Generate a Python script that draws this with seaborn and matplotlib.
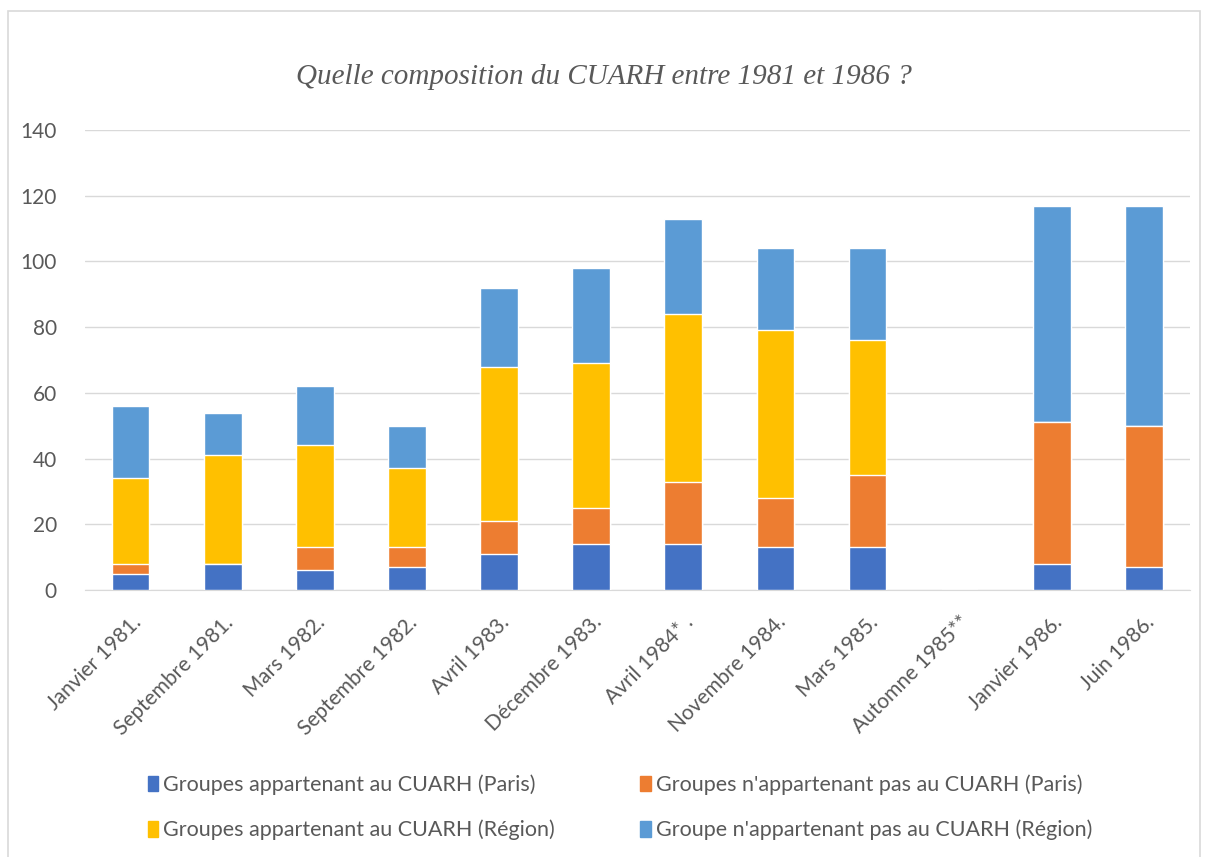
import matplotlib.pyplot as plt
import matplotlib.patches as mpatches
import numpy as np
import pandas as pd
import seaborn as sns

periods = ["Janvier 1981.", "Septembre 1981.", "Mars 1982.", "Septembre 1982.",
           "Avril 1983.", "Décembre 1983.", "Avril 1984* .", "Novembre 1984.",
           "Mars 1985.", "Automne 1985**", "Janvier 1986.", "Juin 1986."]

paris_cuarh = [5, 8, 6, 7, 11, 14, 14, 13, 13, 0, 8, 7]
paris_non_cuarh = [3, 0, 7, 6, 10, 11, 19, 15, 22, 0, 43, 43]
region_cuarh = [26, 33, 31, 24, 47, 44, 51, 51, 41, 0, 0, 0]
region_non_cuarh = [22, 13, 18, 13, 24, 29, 29, 25, 28, 0, 66, 67]

series_names = ["Groupes appartenant au CUARH (Paris)",
                "Groupes n'appartenant pas au CUARH (Paris)",
                "Groupes appartenant au CUARH (Région)",
                "Groupe n'appartenant pas au CUARH (Région)"]
colors = ["#4472C4", "#ED7D31", "#FFC000", "#5B9BD5"]

sns.set_style("white")
plt.rcParams['font.family'] = ['Lato', 'DejaVu Sans']
text_color = "#595959"

fig = plt.figure(figsize=(12.08, 8.57), dpi=100)
ax = fig.add_axes([0.07, 0.3116, 0.915, 0.5367])

# stacked bars: draw cumulative totals, tallest first
stack = np.array([paris_cuarh, paris_non_cuarh, region_cuarh, region_non_cuarh])
cum = np.cumsum(stack, axis=0)
for i in range(3, -1, -1):
    df = pd.DataFrame({"period": periods, "value": cum[i]})
    sns.barplot(data=df, x="period", y="value", color=colors[i], width=0.41,
                saturation=1, ax=ax, zorder=3)

ax.set_ylim(0, 140)
ax.set_yticks(range(0, 141, 20))
ax.grid(axis="y", color="#D9D9D9", linewidth=1, zorder=0)
ax.set_axisbelow(True)
for s in ["top", "right", "left"]:
    ax.spines[s].set_visible(False)
ax.spines["bottom"].set_color("#D9D9D9")
ax.set_xlabel("")
ax.set_ylabel("")
ax.tick_params(axis="both", length=0, labelsize=15, labelcolor=text_color)
ax.tick_params(axis="y", pad=20)
ax.tick_params(axis="x", pad=16)
plt.setp(ax.get_xticklabels(), rotation=45, ha="right", rotation_mode="anchor")

fig.text(0.5, 0.91, "Quelle composition du CUARH entre 1981 et 1986 ?",
         ha="center", va="center", fontsize=21, color=text_color,
         family="Liberation Serif", style="italic")

handles = [mpatches.Patch(color=c, label=n) for c, n in zip(colors, series_names)]
leg = fig.legend(handles=[handles[0], handles[2], handles[1], handles[3]],
                 ncol=2, loc="center", bbox_to_anchor=(0.513, 0.058),
                 frameon=False, fontsize=15.5, handlelength=0.5, handleheight=0.75,
                 handletextpad=0.2, columnspacing=4.0, labelspacing=1.15)
for t in leg.get_texts():
    t.set_color(text_color)

fig.patches.append(mpatches.Rectangle((0.007, -0.01), 0.986, 0.997,
                                      transform=fig.transFigure, fill=False,
                                      edgecolor="#D9D9D9", linewidth=1.2))

fig.savefig("out.png", dpi=100)
